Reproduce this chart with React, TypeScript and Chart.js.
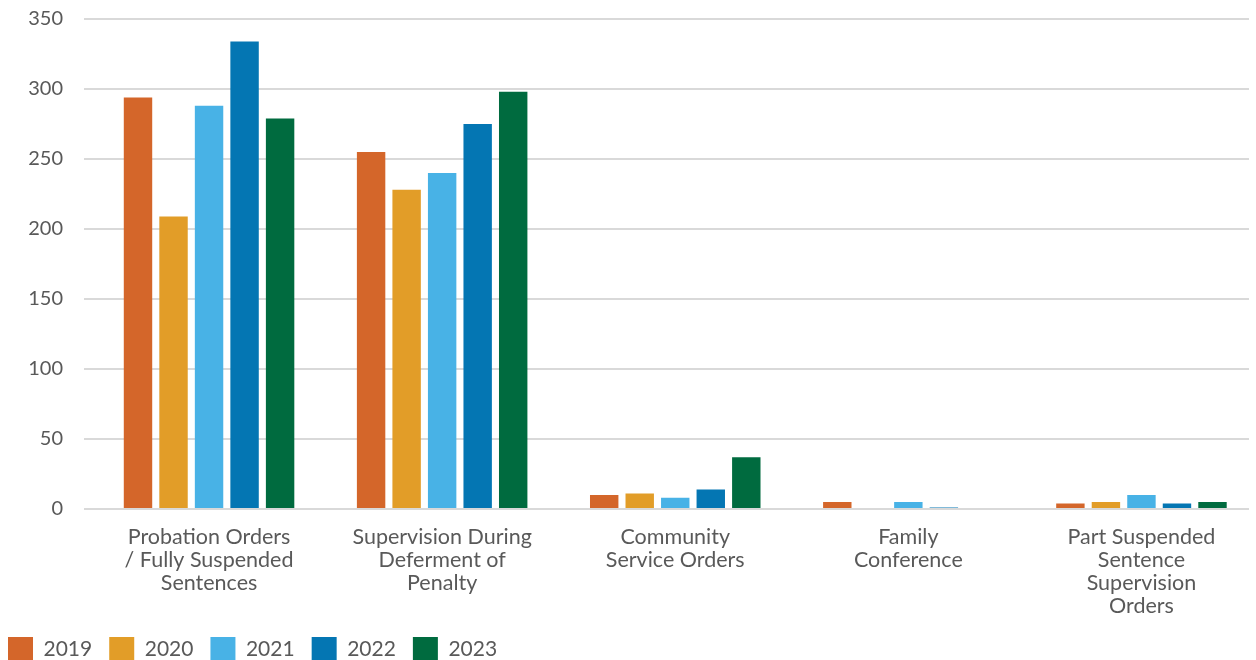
import React, { useEffect, useRef } from "react";
import { Chart, registerables } from "chart.js";

Chart.register(...registerables);

const categories: string[][] = [
  ["Probation Orders", "/ Fully Suspended", "Sentences"],
  ["Supervision During", "Deferment of", "Penalty"],
  ["Community", "Service Orders"],
  ["Family", "Conference"],
  ["Part Suspended", "Sentence", "Supervision", "Orders"],
];

const seriesNames = ["2019", "2020", "2021", "2022", "2023"];
const values2019 = [294, 255, 10, 5, 4];
const values2020 = [209, 228, 11, 0, 5];
const values2021 = [288, 240, 8, 5, 10];
const values2022 = [334, 275, 14, 1, 4];
const values2023 = [279, 298, 37, 0, 5];
const seriesColors = ["#D4662A", "#E29D28", "#48B2E6", "#0476B3", "#006B3F"];

const yMin = 0;
const yMax = 350;
const yStep = 50;

const TEXT = "#595959";
const FONT = "Lato, 'Open Sans', sans-serif";

export default function App() {
  const ref = useRef<HTMLCanvasElement | null>(null);

  useEffect(() => {
    if (!ref.current) return;
    const allValues = [values2019, values2020, values2021, values2022, values2023];
    const chart = new Chart(ref.current, {
      type: "bar",
      data: {
        labels: categories,
        datasets: seriesNames.map((name, i) => ({
          label: name,
          data: allValues[i],
          backgroundColor: seriesColors[i],
          borderWidth: 0,
          categoryPercentage: 0.762,
          barPercentage: 0.8,
        })),
      },
      options: {
        animation: false,
        responsive: true,
        maintainAspectRatio: false,
        devicePixelRatio: 1,
        layout: { padding: { top: 19, left: 0, right: 0, bottom: 0 } },
        plugins: {
          tooltip: { enabled: false },
          legend: {
            position: "bottom",
            align: "start",
            labels: {
              boxWidth: 25,
              boxHeight: 24,
              padding: 17,
              color: TEXT,
              font: { family: FONT, size: 21 },
            },
          },
        },
        scales: {
          x: {
            grid: { display: false, drawTicks: false },
            border: { display: false },
            ticks: {
              color: TEXT,
              font: { family: FONT, size: 21.5, lineHeight: 1.08 },
              padding: 16,
              maxRotation: 0,
              autoSkip: false,
            },
            afterFit: (scale: any) => {
              scale.height = 111;
            },
          },
          y: {
            min: yMin,
            max: yMax,
            grid: {
              color: "#D9D9D9",
              lineWidth: 2,
              drawTicks: true,
              tickLength: 8.5,
            },
            border: { display: false },
            ticks: {
              stepSize: yStep,
              color: TEXT,
              font: { family: FONT, size: 20 },
              padding: 21,
            },
            afterFit: (scale: any) => {
              scale.width = 101.5;
              scale.paddingTop = 0;
              scale.paddingBottom = 0;
            },
          },
        },
      },
    });
    return () => chart.destroy();
  }, []);

  return (
    <div
      style={{
        position: "fixed",
        left: 0,
        top: 0,
        width: 1249,
        height: 660,
        overflow: "hidden",
        background: "#fff",
      }}
    >
      <div style={{ position: "absolute", left: -9, top: 0, width: 1267, height: 671 }}>
        <canvas ref={ref} />
      </div>
    </div>
  );
}
